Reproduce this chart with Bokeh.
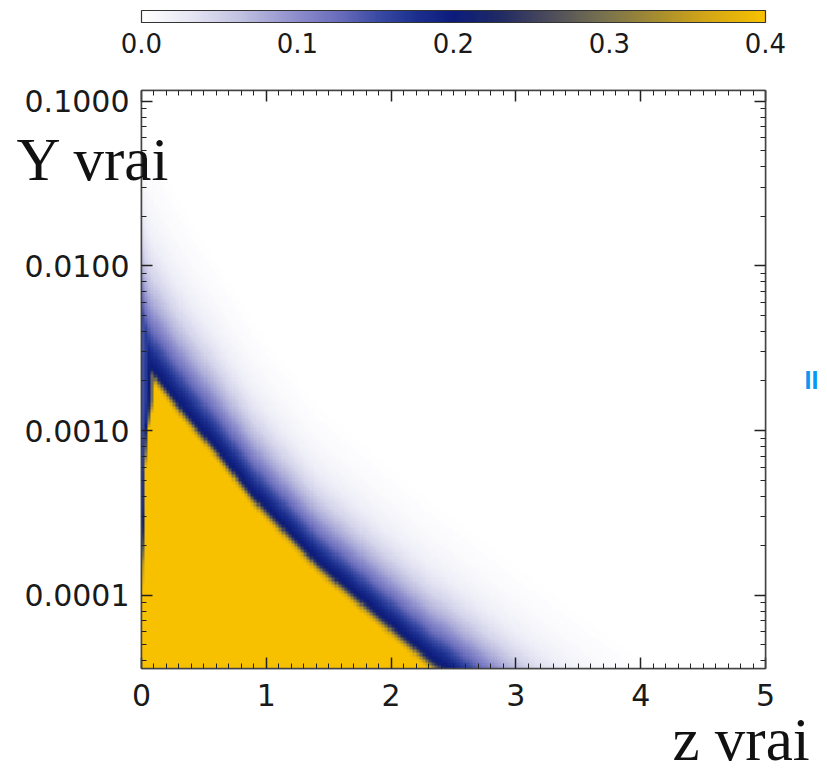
import numpy as np
from bokeh.plotting import figure
from bokeh.models import (LinearColorMapper, ColorBar, FixedTicker, LinearAxis,
                          LogAxis, Label, Range1d, GridBox)
from bokeh.embed import file_html
from bokeh.resources import INLINE

# ---------------- data ----------------
z_limits = [0.0, 5.0]
y_limits = [3.59e-5, 0.116]

x_ticks = [0, 1, 2, 3, 4, 5]
x_tick_labels = ["0", "1", "2", "3", "4", "5"]
y_ticks = [1e-4, 1e-3, 1e-2, 1e-1]
y_tick_labels = ["0.0001", "0.0010", "0.0100", "0.1000"]
cbar_ticks = [0.0, 0.1, 0.2, 0.3, 0.4]
cbar_tick_labels = ["0.0", "0.1", "0.2", "0.3", "0.4"]

# ridge of the map (value ~0.2, navy) : z, log10(Y)
ridge_z = [0.00, 0.05, 0.10, 0.35, 0.62, 0.89, 1.41, 1.84, 2.32, 2.44, 3.00, 5.00]
ridge_logy = [-2.45, -2.58, -2.64, -2.88, -3.12, -3.38, -3.79, -4.07, -4.38, -4.44, -4.77, -5.90]

# value across the ridge, vs offset in decades of Y above the ridge
profile_offset = [-0.20, -0.09, -0.06, -0.035, -0.015, 0.00, 0.05, 0.10, 0.18, 0.28, 0.40, 0.55, 0.75, 1.00]
profile_value = [0.40, 0.40, 0.36, 0.28, 0.23, 0.205, 0.185, 0.16, 0.12, 0.08, 0.045, 0.02, 0.006, 0.0]

# widening of the faint halo at low z
fade_z = [0.0, 0.1, 0.3, 0.6, 1.0, 1.4, 5.0]
fade_scale = [1.5, 1.4, 1.3, 1.2, 1.08, 1.0, 1.0]

# thin blue strip along z = 0
strip_logy = [-4.45, -3.8, -3.3, -3.0, -2.82, -2.5]
strip_width = [0.008, 0.014, 0.03, 0.06, 0.11, 0.12]
strip_t = [0.0, 0.5, 0.8, 1.0]
strip_value = [0.14, 0.18, 0.30, 0.40]

# colour table: white -> navy -> gold
cmap_values = [0.00, 0.03, 0.065, 0.10, 0.13, 0.15, 0.175, 0.20, 0.23, 0.26, 0.295, 0.33, 0.36, 0.40]
cmap_colors = ["#ffffff", "#e6e6f4", "#bebee0", "#8c8ccc", "#6468b8", "#3c4ca4", "#1c3090",
               "#0c1c7c", "#202a64", "#4a4a5c", "#767050", "#a48c30", "#d0a418", "#f8c100"]

# ---------------- build palette and map ----------------
def hex2rgb(h):
    return [int(h[i:i + 2], 16) for i in (1, 3, 5)]

rgb = np.array([hex2rgb(c) for c in cmap_colors], dtype=float)
pos = np.linspace(cmap_values[0], cmap_values[-1], 256)
palette = ["#%02x%02x%02x" % tuple(int(round(np.interp(v, cmap_values, rgb[:, k]))) for k in range(3))
           for v in pos]

nz, nl = 200, 185
lo, hi = np.log10(y_limits[0]), np.log10(y_limits[1])
zc = z_limits[0] + (np.arange(nz) + 0.5) * (z_limits[1] - z_limits[0]) / nz
lc = lo + (np.arange(nl) + 0.5) * (hi - lo) / nl
Z, L = np.meshgrid(zc, lc)
C = np.interp(Z, ridge_z, ridge_logy)
D = L - C
U = np.interp(Z, fade_z, fade_scale)
Deff = np.where(D > 0, D / U, D)
V = np.interp(Deff, profile_offset, profile_value)
W = np.interp(L, strip_logy, strip_width)
S = np.interp(Z / W, strip_t, strip_value)
V = np.minimum(V, S)

mapper = LinearColorMapper(palette=palette, low=cmap_values[0], high=cmap_values[-1])

# ---------------- main figure ----------------
FW, FH = 819, 775
FL, FT, FR, FB = 141, 90, 765, 668   # frame edges inside the canvas
p = figure(width=FW, height=FH, y_axis_type="log", output_backend="svg",
           toolbar_location=None, x_range=Range1d(*z_limits), y_range=Range1d(*y_limits),
           min_border_left=FL, min_border_right=FW - FR, min_border_top=FT,
           min_border_bottom=FH - FB)
p.frame_align = False
p.grid.visible = False
p.outline_line_color = "#444444"
p.outline_line_width = 1.5
p.background_fill_color = "white"
p.border_fill_color = "white"

p.image(image=[V], x=z_limits[0], y=y_limits[0], dw=z_limits[1] - z_limits[0],
        dh=y_limits[1] - y_limits[0], color_mapper=mapper)

x_minor = [i / 10 for i in range(0, 51) if i % 10 != 0]
y_minor = [k * 10.0 ** e for e in range(-5, 0) for k in range(2, 10)
           if y_limits[0] <= k * 10.0 ** e <= y_limits[1]]
xt = FixedTicker(ticks=x_ticks, minor_ticks=x_minor)
yt = FixedTicker(ticks=y_ticks, minor_ticks=y_minor)

FONT = "DejaVu Sans"

def style_axis(ax):
    ax.major_tick_in = 11
    ax.major_tick_out = 0
    ax.minor_tick_in = 5
    ax.minor_tick_out = 0
    ax.major_tick_line_color = "#222222"
    ax.minor_tick_line_color = "#222222"
    ax.major_tick_line_width = 1.5
    ax.axis_line_color = "#444444"
    ax.axis_line_width = 1.5
    ax.major_label_text_font = FONT
    ax.major_label_text_color = "#1a1a1a"
    ax.major_label_text_font_size = "30px"

xa = p.xaxis[0]
xa.ticker = xt
xa.major_label_overrides = {t: s for t, s in zip(x_ticks, x_tick_labels)}
style_axis(xa)
xa.major_label_standoff = 15

ya = p.yaxis[0]
ya.ticker = yt
ya.major_label_overrides = {t: s for t, s in zip(y_ticks, y_tick_labels)}
style_axis(ya)
ya.major_label_standoff = 12

# mirrored tick marks on the top and right sides (no labels)
top = LinearAxis(ticker=xt)
style_axis(top)
top.major_label_text_color = None
top.major_label_text_font_size = "2px"
top.major_label_standoff = 0
p.add_layout(top, "above")

right = LogAxis(ticker=yt)
style_axis(right)
right.major_label_text_color = None
right.major_label_text_font_size = "2px"
right.major_label_standoff = 0
p.add_layout(right, "right")

# ---------------- transparent overlay for free-standing texts and colour bar ----------------
ov = figure(width=FW, height=FH, output_backend="svg", toolbar_location=None,
            x_range=Range1d(0, FW), y_range=Range1d(0, FH),
            x_axis_location=None, y_axis_location=None,
            min_border=0, min_border_left=0, min_border_right=0,
            min_border_top=0, min_border_bottom=0)
ov.frame_align = False
ov.grid.visible = False
ov.outline_line_color = None
ov.background_fill_color = None
ov.border_fill_color = None

cb = ColorBar(color_mapper=mapper, orientation="horizontal", height=12, width=FR - FL,
              ticker=FixedTicker(ticks=cbar_ticks),
              major_label_overrides={t: s for t, s in zip(cbar_ticks, cbar_tick_labels)},
              major_label_text_font=FONT, major_label_text_font_size="26px",
              major_label_text_color="#1a1a1a", label_standoff=10,
              major_tick_line_color=None, minor_tick_line_color=None,
              bar_line_color="#333333", bar_line_width=1.2,
              background_fill_color=None, border_line_color=None,
              padding=0, margin=0, location=(FL, FH - 55))
ov.add_layout(cb, "center")

ov.add_layout(Label(x=16, y=FH - 159, x_units="screen", y_units="screen", text="Y vrai",
                    text_font="Liberation Serif", text_font_size="61px",
                    text_color="#111111", text_baseline="alphabetic"))
ov.add_layout(Label(x=672, y=FH - 739, x_units="screen", y_units="screen", text="z vrai",
                    text_font="Liberation Serif", text_font_size="61px",
                    text_color="#111111", text_baseline="alphabetic"))
ov.add_layout(Label(x=804, y=FH - 379, x_units="screen", y_units="screen", text="II",
                    text_font="Liberation Sans", text_font_style="bold",
                    text_font_size="25px", text_color="#0a96f5",
                    text_baseline="alphabetic"))

grid = GridBox(children=[(p, 0, 0), (ov, 0, 0)])

open("out.html", "w").write(file_html(grid, INLINE))
